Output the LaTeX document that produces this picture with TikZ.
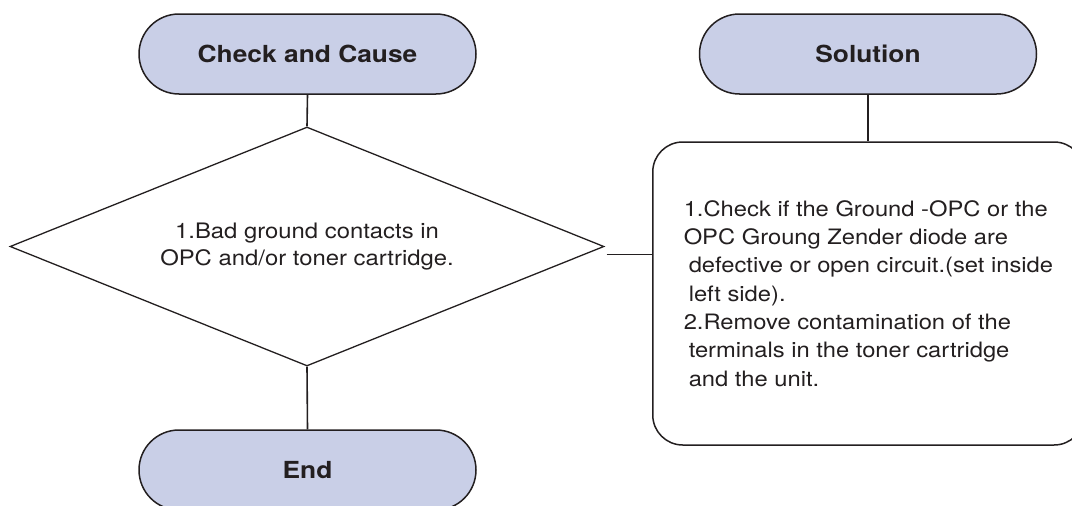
\documentclass[tikz,border=0pt]{standalone}
\usepackage{fontspec}
\setmainfont{TeX Gyre Heros}[FakeStretch=1.12]
\usetikzlibrary{shapes.geometric,shapes.misc}

\definecolor{pillfill}{RGB}{201,207,231}
\definecolor{ink}{RGB}{35,31,32}

\begin{document}
\begin{tikzpicture}[x=1pt,y=1pt,yscale=-1,xscale=1,
  every node/.style={text=ink},
  pill/.style={rounded rectangle,draw=ink,line width=1.5pt,fill=pillfill,
    minimum width=337pt,minimum height=80pt,inner sep=0pt,
    font=\fontsize{23.5}{28}\selectfont\bfseries},
  query/.style={diamond,draw=ink,line width=1.3pt,aspect=2.5,
    minimum width=594pt,minimum height=239pt,inner sep=0pt,align=center,
    font=\fontsize{21.3}{27}\selectfont},
  fixbox/.style={draw=ink,line width=1.5pt,rounded corners=30pt,
    minimum height=303pt,inner xsep=31pt,align=left,
    font=\fontsize{21.2}{28.3}\selectfont},
  link/.style={draw=ink,line width=1.6pt}]
\useasboundingbox (0,0) rectangle (1072,506);

% headers
\node[pill] (cause) at (307.5,54) {Check and Cause};
\node[pill] (sol) at (868,54) {Solution};

% decision
\node[query] (fault) at (307,246.5) {1.Bad ground contacts in\\OPC and/or toner cartridge.};

% end
\node[pill] (end) at (307.5,470) {End};

% fix box
\node[fixbox,anchor=west] (fix) at (652,293.5) {1.Check if the Ground -OPC or the\\
OPC Groung Zender diode are\\
\hspace*{5pt}defective or open circuit.(set inside\\
\hspace*{5pt}left side).\\
2.Remove contamination of the\\
\hspace*{5pt}terminals in the toner cartridge\\
\hspace*{5pt}and the unit.};

% connectors
\draw[link] (cause.south) -- (fault.north);
\draw[link] (fault.south) -- (end.north);
\draw[link] (sol.south) -- (sol.south |- fix.north);
\draw[link] ([xshift=2pt,yshift=8pt]fault.east) -- ([yshift=8pt]fault.east -| fix.west);

\end{tikzpicture}
\end{document}
